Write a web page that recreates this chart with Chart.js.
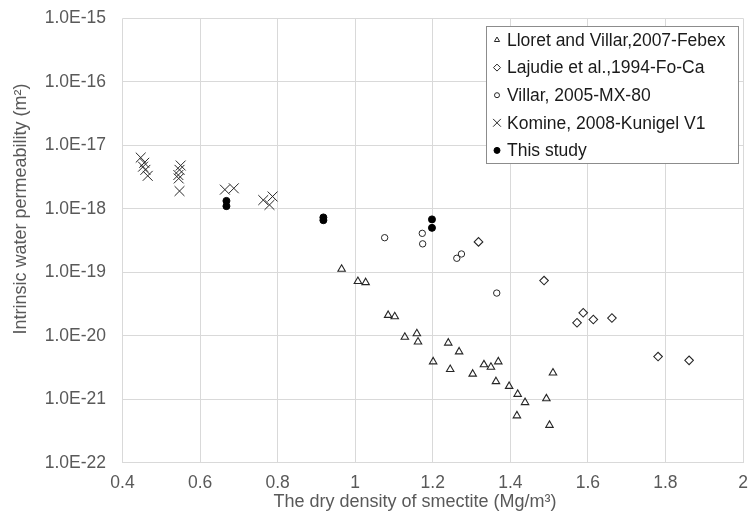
<!DOCTYPE html>
<html>
<head>
<meta charset="utf-8">
<script src="https://cdn.jsdelivr.net/npm/chart.js@4.4.1/dist/chart.umd.min.js"></script>
<style>
  html, body { margin: 0; padding: 0; overflow: hidden; background: #fff; }
  #wrap { width: 751px; height: 516px; }
</style>
</head>
<body>
<div id="wrap"><canvas id="permChart" width="751" height="516"></canvas></div>
<script>
// Lloret and Villar, 2007 - Febex
const febexX = [0.965, 1.007, 1.027, 1.085, 1.102, 1.128, 1.159, 1.162, 1.201, 1.24, 1.245, 1.268,
                1.303, 1.332, 1.35, 1.363, 1.369, 1.397, 1.419, 1.417, 1.438, 1.493, 1.501, 1.51];
const febexK = [1.12e-19, 7.2e-20, 6.9e-20, 2.1e-20, 2.0e-20, 9.5e-21, 1.08e-20, 8.0e-21, 3.9e-21, 7.7e-21, 2.95e-21, 5.6e-21,
                2.5e-21, 3.5e-21, 3.2e-21, 1.9e-21, 3.9e-21, 1.6e-21, 1.2e-21, 5.5e-22, 8.9e-22, 1.02e-21, 3.9e-22, 2.6e-21];

// Lajudie et al., 1994 - Fo-Ca
const fococaX = [1.318, 1.487, 1.572, 1.588, 1.614, 1.662, 1.781, 1.861];
const fococaK = [3.0e-19, 7.4e-20, 1.6e-20, 2.3e-20, 1.8e-20, 1.9e-20, 4.7e-21, 4.1e-21];

// Villar, 2005 - MX-80
const mx80X = [1.076, 1.173, 1.174, 1.262, 1.274, 1.365];
const mx80K = [3.5e-19, 4.1e-19, 2.8e-19, 1.66e-19, 1.94e-19, 4.7e-20];

// Komine, 2008 - Kunigel V1
const kunigelX = [0.447, 0.456, 0.453, 0.459, 0.465, 0.55, 0.547, 0.544, 0.545, 0.547, 0.664, 0.687, 0.763, 0.787, 0.779];
const kunigelK = [6.4e-18, 5.3e-18, 4.6e-18, 4.1e-18, 3.3e-18, 4.8e-18, 4.1e-18, 3.4e-18, 3.0e-18, 1.9e-18, 2.0e-18, 2.1e-18, 1.37e-18, 1.56e-18, 1.15e-18];

// This study
const studyX = [0.668, 0.668, 0.918, 0.918, 1.198, 1.198];
const studyK = [1.33e-18, 1.1e-18, 7.3e-19, 6.6e-19, 6.8e-19, 5.0e-19];

// axes
const yTicks = [1e-22, 1e-21, 1e-20, 1e-19, 1e-18, 1e-17, 1e-16, 1e-15];
const xMin = 0.4, xMax = 2.0, xStep = 0.2;
const xTitle = 'The dry density of smectite (Mg/m³)';
const yTitle = 'Intrinsic water permeability (m²)';

const FONT = '"Liberation Sans", Arial, sans-serif';
const TXT = '#595959';
const MARK = '#262626';

function pts(xs, ys) {
    return xs.map((x, i) => ({ x: x, y: ys[i] }));
}

// axis titles: in the original they sit a bit off the plot centre
const axisTitles = {
    id: 'axisTitles',
    afterDraw(chart) {
        const ctx = chart.ctx;
        ctx.save();
        ctx.font = '18px ' + FONT;
        ctx.fillStyle = TXT;
        ctx.textAlign = 'center';
        ctx.textBaseline = 'middle';
        ctx.fillText(xTitle, 415, 502);
        ctx.translate(21, 209);
        ctx.rotate(-Math.PI / 2);
        ctx.fillText(yTitle, 0, 0);
        ctx.restore();
    }
};

// legend drawn in a framed box inside the plot
const boxLegend = {
    id: 'boxLegend',
    afterDraw(chart) {
        const ctx = chart.ctx;
        const left = 486, top = 26, w = 252, h = 137;
        ctx.save();
        ctx.fillStyle = '#fff';
        ctx.fillRect(left, top, w, h);
        ctx.strokeStyle = '#8c8c8c';
        ctx.lineWidth = 1;
        ctx.strokeRect(left + 0.5, top + 0.5, w, h);
        ctx.font = '17.5px ' + FONT;
        ctx.textBaseline = 'middle';
        chart.data.datasets.forEach((ds, i) => {
            const y = top + 14 + i * 27.6;
            ctx.strokeStyle = ds.borderColor;
            ctx.fillStyle = ds.backgroundColor;
            Chart.helpers.drawPoint(ctx, {
                pointStyle: ds.pointStyle,
                radius: ds.legendRadius,
                rotation: 0,
                borderWidth: 1
            }, left + 11, y);
            ctx.fillStyle = '#1a1a1a';
            ctx.fillText(ds.label, left + 21, y + 1);
        });
        ctx.restore();
    }
};

const data = {
    datasets: [
        { label: 'Lloret and Villar,2007-Febex', data: pts(febexX, febexK), pointStyle: 'triangle',
          pointRadius: 4.3, legendRadius: 3, borderColor: MARK, backgroundColor: 'rgba(0,0,0,0)', borderWidth: 1.1 },
        { label: 'Lajudie et al.,1994-Fo-Ca', data: pts(fococaX, fococaK), pointStyle: 'rectRot',
          pointRadius: 4.3, legendRadius: 3.5, borderColor: MARK, backgroundColor: 'rgba(0,0,0,0)', borderWidth: 1.1 },
        { label: 'Villar, 2005-MX-80', data: pts(mx80X, mx80K), pointStyle: 'circle',
          pointRadius: 3.2, legendRadius: 2.5, borderColor: MARK, backgroundColor: 'rgba(0,0,0,0)', borderWidth: 1 },
        { label: 'Komine, 2008-Kunigel V1', data: pts(kunigelX, kunigelK), pointStyle: 'crossRot',
          pointRadius: 7, legendRadius: 5.5, borderColor: MARK, backgroundColor: MARK, borderWidth: 1 },
        { label: 'This study', data: pts(studyX, studyK), pointStyle: 'circle',
          pointRadius: 3.5, legendRadius: 3, borderColor: '#000', backgroundColor: '#000', borderWidth: 1 }
    ]
};

const config = {
    type: 'scatter',
    data: data,
    options: {
        responsive: false,
        animation: false,
        layout: { padding: { top: 18.3, right: 4.5, left: 0, bottom: 0 } },
        plugins: {
            legend: { display: false },
            tooltip: { enabled: false }
        },
        scales: {
            x: {
                type: 'linear',
                min: xMin,
                max: xMax,
                ticks: {
                    stepSize: xStep,
                    color: TXT,
                    font: { family: FONT, size: 17.5 },
                    padding: 10,
                    maxRotation: 0,
                    callback: v => String(Math.round(v * 10) / 10)
                },
                grid: { color: '#d9d9d9', drawTicks: false },
                border: { display: false },
                afterFit(scale) {
                    scale.height = 53.3;
                    scale.paddingLeft = 0;
                    scale.paddingRight = 0;
                }
            },
            y: {
                type: 'logarithmic',
                min: 1e-22,
                max: 1e-15,
                afterBuildTicks(scale) {
                    scale.ticks = yTicks.map(v => ({ value: v }));
                },
                ticks: {
                    color: TXT,
                    font: { family: FONT, size: 17.5 },
                    padding: 16.5,
                    callback: v => Number(v).toExponential(1).toUpperCase()
                },
                grid: { color: '#d9d9d9', drawTicks: false },
                border: { display: false },
                afterFit(scale) {
                    scale.width = 122.5;
                    scale.paddingTop = 0;
                    scale.paddingBottom = 0;
                }
            }
        }
    },
    plugins: [boxLegend, axisTitles]
};

new Chart(document.getElementById('permChart'), config);
</script>
</body>
</html>
